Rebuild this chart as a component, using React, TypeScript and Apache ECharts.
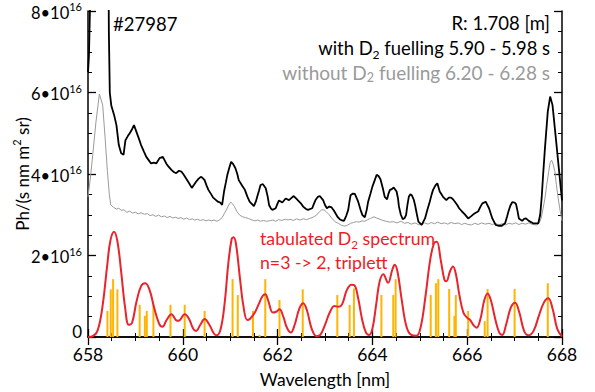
import React, { useEffect, useRef } from 'react';
import * as echarts from 'echarts';

const FONT = 'Lato, "Liberation Sans", sans-serif';

// y values in units of 1e16 Ph/(s nm m^2 sr)
const X_MIN = 658;
const X_MAX = 668;
const Y_MAX = 8;

const withD2: [number, number][] = [
  [658.0, 6.5], [658.02, 6.9], [658.05, 8.5], [658.07, 12], [658.42, 12], [658.44, 7.5], [658.46, 6.0],
  [658.49, 5.69], [658.55, 5.45], [658.6, 5.2], [658.65, 4.71], [658.7, 4.51], [658.75, 4.47], [658.79, 4.83],
  [658.84, 4.93], [658.88, 5.0], [658.93, 5.1], [658.97, 5.2], [659.02, 5.04], [659.07, 4.88], [659.12, 4.71],
  [659.18, 4.55], [659.23, 4.42], [659.28, 4.34], [659.33, 4.26], [659.39, 4.28], [659.44, 4.26], [659.51, 4.39],
  [659.58, 4.42], [659.65, 4.26], [659.7, 4.18], [659.76, 4.1], [659.81, 4.05], [659.86, 4.02], [659.92, 4.08],
  [659.97, 4.06], [660.02, 3.98], [660.07, 3.89], [660.13, 3.78], [660.19, 3.66], [660.24, 3.74], [660.28, 3.81],
  [660.33, 3.88], [660.38, 3.93], [660.42, 3.9], [660.46, 3.85], [660.5, 3.72], [660.54, 3.61], [660.6, 3.5],
  [660.64, 3.42], [660.69, 3.37], [660.74, 3.32], [660.79, 3.3], [660.83, 3.24], [660.87, 3.57], [660.91, 3.8],
  [660.94, 3.98], [660.98, 4.15], [661.02, 4.3], [661.06, 4.25], [661.11, 4.14], [661.15, 4.0], [661.18, 3.85],
  [661.25, 3.72], [661.31, 3.61], [661.36, 3.45], [661.41, 3.32], [661.46, 3.26], [661.5, 3.21], [661.54, 3.32],
  [661.57, 3.44], [661.61, 3.6], [661.64, 3.73], [661.69, 3.75], [661.75, 3.65], [661.79, 3.45], [661.82, 3.24],
  [661.86, 3.15], [661.89, 3.12], [661.96, 3.16], [662.0, 3.28], [662.03, 3.35], [662.1, 3.3], [662.17, 3.4],
  [662.24, 3.36], [662.3, 3.42], [662.34, 3.46], [662.39, 3.4], [662.43, 3.35], [662.49, 3.28], [662.54, 3.2],
  [662.6, 3.14], [662.64, 3.12], [662.73, 3.16], [662.77, 3.28], [662.8, 3.36], [662.85, 3.44], [662.89, 3.46],
  [662.96, 3.36], [663.0, 3.24], [663.04, 3.16], [663.09, 3.2], [663.14, 3.18], [663.19, 3.1], [663.23, 3.02],
  [663.27, 2.94], [663.31, 2.89], [663.36, 2.86], [663.4, 2.85], [663.45, 2.98], [663.49, 3.12], [663.52, 3.35],
  [663.54, 3.48], [663.59, 3.52], [663.63, 3.51], [663.7, 3.32], [663.75, 3.12], [663.79, 2.99], [663.84, 2.94],
  [663.88, 3.12], [663.91, 3.32], [663.96, 3.52], [664.0, 3.69], [664.05, 3.85], [664.09, 3.98], [664.13, 3.95],
  [664.17, 3.87], [664.22, 3.65], [664.26, 3.44], [664.31, 3.38], [664.34, 3.52], [664.37, 3.61], [664.41, 3.63],
  [664.45, 3.67], [664.51, 3.57], [664.54, 3.4], [664.56, 3.2], [664.6, 3.0], [664.64, 2.89], [664.68, 2.92],
  [664.71, 2.99], [664.74, 3.25], [664.77, 3.45], [664.8, 3.5], [664.83, 3.48], [664.87, 3.38], [664.9, 3.24],
  [664.94, 3.0], [664.97, 2.83], [665.04, 2.75], [665.11, 2.91], [665.16, 3.12], [665.21, 3.32], [665.25, 3.5],
  [665.28, 3.61], [665.33, 3.72], [665.37, 3.77], [665.42, 3.57], [665.49, 3.44], [665.56, 3.36], [665.61, 3.42],
  [665.66, 3.42], [665.7, 3.38], [665.74, 3.32], [665.79, 3.24], [665.83, 3.16], [665.89, 3.08], [665.95, 3.01],
  [666.02, 2.91], [666.08, 2.96], [666.13, 3.01], [666.18, 3.05], [666.23, 3.08], [666.28, 3.2], [666.32, 3.28],
  [666.39, 3.32], [666.46, 3.16], [666.53, 2.91], [666.6, 2.75], [666.67, 2.73], [666.73, 2.73], [666.8, 2.79],
  [666.84, 2.95], [666.87, 3.08], [666.91, 3.22], [666.95, 3.31], [667.0, 3.3], [667.03, 3.26], [667.06, 3.1],
  [667.09, 2.91], [667.16, 2.85], [667.2, 2.9], [667.24, 2.91], [667.3, 2.85], [667.39, 2.79], [667.5, 2.79],
  [667.54, 3.0], [667.57, 3.4], [667.6, 3.95], [667.64, 4.63], [667.7, 5.53], [667.75, 5.9], [667.8, 5.69],
  [667.87, 4.88], [667.94, 4.06], [668.0, 3.35],
];

const withoutD2: [number, number][] = [
  [658.0, 3.44], [658.05, 3.9], [658.1, 4.47], [658.17, 5.3], [658.24, 5.96], [658.31, 5.69], [658.36, 4.9],
  [658.41, 4.06], [658.45, 3.5], [658.48, 3.24], [658.54, 3.18], [658.6, 3.14], [658.65, 3.16], [658.7, 3.11],
  [658.76, 3.12], [658.82, 3.06], [658.88, 3.09], [658.94, 3.04], [659.0, 3.06], [659.06, 3.02], [659.12, 3.05],
  [659.19, 3.01], [659.25, 3.03], [659.31, 2.98], [659.37, 3.0], [659.43, 2.96], [659.49, 2.99], [659.55, 2.95],
  [659.61, 2.97], [659.67, 2.93], [659.73, 2.96], [659.79, 2.92], [659.85, 2.94], [659.9, 2.91], [659.96, 2.93],
  [660.02, 2.89], [660.08, 2.92], [660.14, 2.88], [660.2, 2.9], [660.25, 2.87], [660.31, 2.89], [660.37, 2.86],
  [660.43, 2.88], [660.49, 2.85], [660.55, 2.87], [660.6, 2.85], [660.66, 2.87], [660.72, 2.84], [660.78, 2.88],
  [660.83, 2.93], [660.88, 3.04], [660.92, 3.12], [660.97, 3.24], [661.01, 3.31], [661.05, 3.27], [661.09, 3.2],
  [661.14, 3.08], [661.2, 2.99], [661.26, 2.95], [661.32, 2.93], [661.38, 2.91], [661.44, 2.88], [661.52, 2.85],
  [661.58, 2.87], [661.64, 2.84], [661.7, 2.86], [661.77, 2.84], [661.83, 2.85], [661.9, 2.87], [661.96, 2.84],
  [662.02, 2.88], [662.09, 2.86], [662.16, 2.89], [662.22, 2.87], [662.26, 2.89], [662.33, 2.86], [662.4, 2.9],
  [662.47, 2.87], [662.54, 2.9], [662.61, 2.88], [662.68, 2.91], [662.75, 2.94], [662.82, 2.99], [662.88, 3.07],
  [662.93, 3.12], [662.98, 3.12], [663.03, 3.07], [663.08, 3.01], [663.14, 2.92], [663.21, 2.83], [663.28, 2.79],
  [663.35, 2.74], [663.42, 2.72], [663.48, 2.75], [663.54, 2.79], [663.6, 2.81], [663.66, 2.83], [663.72, 2.82],
  [663.78, 2.85], [663.84, 2.84], [663.9, 2.88], [663.96, 2.91], [664.03, 2.95], [664.09, 2.92], [664.16, 2.89],
  [664.22, 2.86], [664.29, 2.84], [664.36, 2.82], [664.44, 2.83], [664.52, 2.8], [664.6, 2.84], [664.68, 2.79],
  [664.75, 2.81], [664.82, 2.77], [664.9, 2.8], [664.97, 2.76], [665.04, 2.75], [665.1, 2.8], [665.17, 2.77],
  [665.24, 2.81], [665.31, 2.78], [665.38, 2.82], [665.45, 2.78], [665.52, 2.8], [665.59, 2.77], [665.66, 2.81],
  [665.74, 2.78], [665.81, 2.8], [665.88, 2.76], [665.95, 2.79], [666.02, 2.76], [666.09, 2.75], [666.16, 2.79],
  [666.23, 2.76], [666.3, 2.8], [666.38, 2.77], [666.46, 2.79], [666.53, 2.76], [666.6, 2.79], [666.67, 2.75],
  [666.74, 2.78], [666.8, 2.75], [666.88, 2.79], [666.95, 2.77], [667.02, 2.8], [667.09, 2.76], [667.16, 2.79],
  [667.23, 2.77], [667.3, 2.8], [667.38, 2.76], [667.47, 2.75], [667.52, 2.8], [667.56, 2.91], [667.6, 3.15],
  [667.64, 3.4], [667.68, 3.75], [667.72, 4.06], [667.75, 4.28], [667.78, 4.34], [667.81, 4.25], [667.85, 4.06],
  [667.88, 3.75], [667.92, 3.4], [667.96, 3.1], [668.0, 2.85],
];

const tabulated: [number, number][] = [
  [658.0, 0], [658.1, 0.02], [658.2, 0.15], [658.3, 0.7], [658.4, 1.7], [658.47, 2.35], [658.55, 2.58],
  [658.62, 2.35], [658.7, 1.6], [658.78, 0.75], [658.86, 0.3], [658.93, 0.35], [659.02, 0.85], [659.12, 1.25],
  [659.21, 1.32], [659.3, 1.15], [659.4, 0.7], [659.5, 0.33], [659.57, 0.25], [659.66, 0.42], [659.76, 0.56],
  [659.88, 0.4], [659.93, 0.41], [660.04, 0.56], [660.13, 0.45], [660.22, 0.2], [660.28, 0.15], [660.37, 0.3],
  [660.46, 0.44], [660.56, 0.3], [660.66, 0.08], [660.72, 0.04], [660.8, 0.2], [660.88, 0.8], [660.96, 1.8],
  [661.03, 2.4], [661.07, 2.45], [661.12, 2.3], [661.2, 1.5], [661.28, 0.75], [661.36, 0.42], [661.42, 0.45],
  [661.52, 0.6], [661.6, 0.8], [661.68, 1.0], [661.74, 1.05], [661.8, 0.9], [661.9, 0.6], [661.97, 0.62],
  [662.04, 0.68], [662.12, 0.5], [662.2, 0.22], [662.28, 0.11], [662.36, 0.3], [662.46, 0.7], [662.54, 0.83],
  [662.62, 0.65], [662.72, 0.2], [662.82, 0.02], [662.9, 0.05], [663.0, 0.3], [663.1, 0.6], [663.2, 0.76],
  [663.28, 0.74], [663.36, 0.8], [663.46, 1.15], [663.56, 1.28], [663.62, 1.27], [663.7, 0.95], [663.78, 0.45],
  [663.86, 0.12], [663.93, 0.05], [664.0, 0.2], [664.08, 0.8], [664.15, 1.35], [664.23, 1.54], [664.33, 1.33],
  [664.42, 1.65], [664.47, 1.77], [664.53, 1.6], [664.62, 0.9], [664.72, 0.25], [664.82, 0.05], [664.93, 0.03],
  [665.02, 0.25], [665.12, 1.0], [665.22, 1.9], [665.3, 2.3], [665.36, 2.34], [665.44, 1.9], [665.52, 1.4],
  [665.56, 1.37], [665.64, 1.62], [665.7, 1.73], [665.76, 1.55], [665.84, 1.0], [665.92, 0.6], [666.0, 0.47],
  [666.06, 0.42], [666.14, 0.28], [666.2, 0.23], [666.28, 0.45], [666.36, 0.9], [666.43, 1.07], [666.5, 0.9],
  [666.6, 0.4], [666.68, 0.1], [666.74, 0.05], [666.82, 0.3], [666.92, 0.72], [667.01, 0.84], [667.1, 0.6],
  [667.2, 0.15], [667.29, 0.04], [667.4, 0.15], [667.52, 0.55], [667.62, 0.85], [667.71, 0.95], [667.8, 0.7],
  [667.9, 0.2], [668.0, 0.01],
];

const sticks: [number, number][] = [
  [658.41, 0.64], [658.48, 1.17], [658.53, 1.42], [658.62, 1.17], [659.09, 0.79], [659.2, 0.52], [659.24, 0.64],
  [659.38, 0.79], [659.74, 0.79], [660.04, 0.79], [660.46, 0.64], [661.05, 1.42], [661.16, 1.03], [661.48, 0.64],
  [661.62, 0.05], [661.74, 1.42], [662.04, 0.91], [662.53, 1.17], [663.26, 1.03], [663.52, 0.79], [663.61, 1.19],
  [664.19, 1.03], [664.44, 1.03], [664.49, 1.42], [665.23, 1.03], [665.34, 1.32], [665.39, 1.42], [665.62, 1.18],
  [665.73, 0.52], [665.76, 1.03], [666.02, 0.64], [666.37, 0.39], [666.43, 1.18], [667.0, 1.18], [667.7, 1.32],
];

const SHOT = '#27987';
const RADIUS = 'R: 1.708 [m]';
const WITH_LABEL = ['with D', '2', ' fuelling 5.90 - 5.98 s'];
const WITHOUT_LABEL = ['without D', '2', ' fuelling 6.20 - 6.28 s'];
const TAB_LABEL1 = ['tabulated D', '2', ' spectrum'];
const TAB_LABEL2 = 'n=3 -> 2, triplett';

const RED = '#ee1c25';
const GRAY = '#9a9a9a';

const subRich = (fill: string, size: number) => ({
  a: { fontFamily: FONT, fontSize: size, fill, lineHeight: 21, padding: [0, 0, 3, 0], verticalAlign: 'top' },
  s: { fontFamily: FONT, fontSize: size * 0.66, fill, lineHeight: 12, verticalAlign: 'bottom' },
});

export default function App() {
  const ref = useRef<HTMLDivElement>(null);
  useEffect(() => {
    const chart = echarts.init(ref.current!, null, { renderer: 'svg' });
    const axisLine = { show: true, lineStyle: { color: '#000', width: 1.5 } };
    const axisTick = { show: true, inside: true, length: 8, lineStyle: { color: '#000', width: 1.3 } };
    const minorTick = { show: true, splitNumber: 4, length: 4, lineStyle: { color: '#000', width: 1 } };
    const supRich = {
      a: { fontFamily: FONT, fontSize: 16.5, color: '#000', lineHeight: 20, verticalAlign: 'bottom' },
      s: { fontFamily: FONT, fontSize: 11, color: '#000', lineHeight: 12, verticalAlign: 'top' },
      z: { fontFamily: FONT, fontSize: 17, color: '#000', lineHeight: 20, padding: [0, 0, 11, 0] },
    };
    const nameRich = {
      a: { fontFamily: FONT, fontSize: 17, color: '#000', lineHeight: 20, verticalAlign: 'bottom' },
      s: { fontFamily: FONT, fontSize: 11, color: '#000', lineHeight: 12, verticalAlign: 'top' },
    };
    chart.setOption({
      animation: false,
      backgroundColor: '#fff',
      grid: { left: 88, right: 33, top: 11, bottom: 55, containLabel: false, outerBoundsMode: 'none' },
      xAxis: [
        {
          type: 'value', min: X_MIN, max: X_MAX, interval: 2, position: 'bottom',
          axisLine, axisTick, minorTick, splitLine: { show: false },
          axisLabel: { color: '#000', fontFamily: FONT, fontSize: 17.5, margin: 8 },
          name: 'Wavelength [nm]', nameLocation: 'middle', nameGap: 33, nameMoveOverlap: false,
          nameTextStyle: { color: '#000', fontFamily: FONT, fontSize: 17.5 },
        },
        {
          type: 'value', min: X_MIN, max: X_MAX, interval: 2, position: 'top',
          axisLine, axisTick, minorTick, splitLine: { show: false }, axisLabel: { show: false },
        },
      ],
      yAxis: [
        {
          type: 'value', min: 0, max: Y_MAX, interval: 2, position: 'left',
          axisLine, axisTick, minorTick, splitLine: { show: false },
          axisLabel: {
            margin: 6,
            formatter: (v: number) => (v === 0 ? '{z|0}' : `{a|${v}•10}{s|16}`),
            rich: supRich,
          },
          name: '{a|Ph/(s nm m}{s|2}{a| sr)}', nameLocation: 'middle', nameGap: 57, nameRotate: 90,
          nameMoveOverlap: false,
          nameTextStyle: { rich: nameRich },
        },
        {
          type: 'value', min: 0, max: Y_MAX, interval: 2, position: 'right',
          axisLine, axisTick, minorTick, splitLine: { show: false }, axisLabel: { show: false },
        },
      ],
      series: [
        {
          type: 'bar', data: sticks, barWidth: 2, xAxisIndex: 0, yAxisIndex: 0,
          itemStyle: { color: '#ffb400' }, z: 1,
        },
        {
          type: 'line', data: withoutD2, showSymbol: false, clip: true,
          lineStyle: { color: GRAY, width: 1 }, z: 2,
        },
        {
          type: 'line', data: withD2, showSymbol: false, clip: true,
          lineStyle: { color: '#000', width: 1.8 }, z: 3,
        },
        {
          type: 'line', data: tabulated, showSymbol: false, smooth: 0.4, clip: true,
          lineStyle: { color: '#e8242c', width: 2 }, z: 4,
        },
      ],
      graphic: [
        { type: 'text', left: 113, top: 14, style: { text: SHOT, fontFamily: FONT, fontSize: 18.5, fill: '#000' } },
        { type: 'text', right: 45, top: 13, style: { text: RADIUS, fontFamily: FONT, fontSize: 18.5, fill: '#000' } },
        {
          type: 'text', right: 45, top: 39,
          style: { text: `{a|${WITH_LABEL[0]}}{s|${WITH_LABEL[1]}}{a|${WITH_LABEL[2]}}`, rich: subRich('#000', 18.4) },
        },
        {
          type: 'text', right: 45, top: 63,
          style: { text: `{a|${WITHOUT_LABEL[0]}}{s|${WITHOUT_LABEL[1]}}{a|${WITHOUT_LABEL[2]}}`, rich: subRich(GRAY, 19) },
        },
        {
          type: 'text', left: 260, top: 229,
          style: { text: `{a|${TAB_LABEL1[0]}}{s|${TAB_LABEL1[1]}}{a|${TAB_LABEL1[2]}}`, rich: subRich(RED, 17.7) },
        },
        {
          type: 'text', left: 260, top: 253,
          style: { text: TAB_LABEL2, fontFamily: FONT, fontSize: 17.7, fill: RED },
        },
      ],
    });
    return () => chart.dispose();
  }, []);
  return <div ref={ref} style={{ position: 'absolute', left: 0, top: 0, width: 595, height: 392 }} />;
}
